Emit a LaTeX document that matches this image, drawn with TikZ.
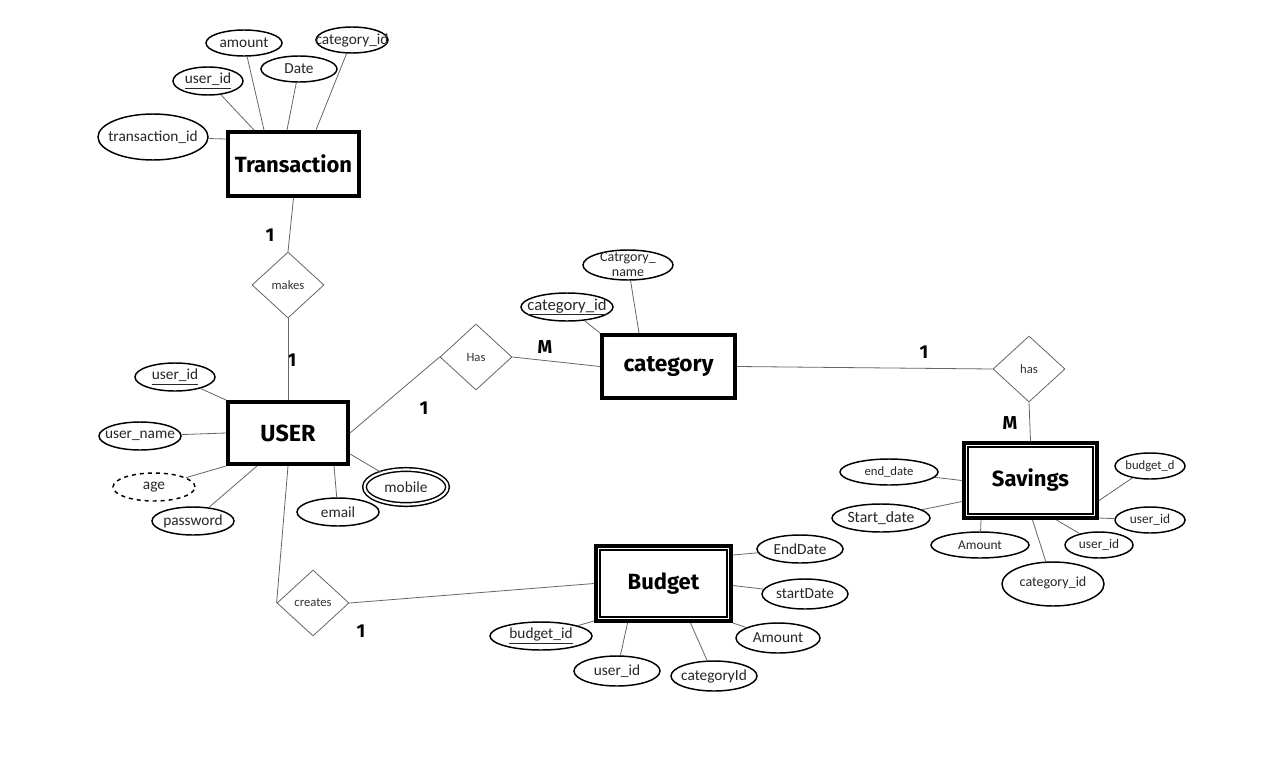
\documentclass[tikz,border=0pt]{standalone}
\usepackage{fontspec}
\setmainfont{Carlito}
\newfontfamily\titlefont{Fira Sans}
\usetikzlibrary{shapes.geometric,calc}
\newcommand\fixw[1]{\makebox[0pt]{#1}}
\begin{document}
\begin{tikzpicture}[x=0.75pt,y=-0.75pt,
 attr/.style 2 args={ellipse, draw=black, line width=1.1pt, inner sep=0pt, fill=white,
   minimum width=#1*0.75pt, minimum height=#2*0.75pt, font=\fontsize{11.5}{12}\selectfont, text=black!85},
 ent/.style 2 args={rectangle, draw=black, line width=3pt, fill=white,
   minimum width=#1*0.75pt, minimum height=#2*0.75pt, inner sep=0pt,
   font=\titlefont\bfseries\fontsize{16.5}{18}\selectfont},
 rel/.style={diamond, draw=black!60, line width=0.6pt, inner sep=0pt, fill=white,
   minimum width=72*0.75pt, minimum height=66*0.75pt, font=\fontsize{9.5}{10}\selectfont, text=black!80},
 lnk/.style={draw=black!60, line width=0.6pt},
 card/.style={font=\titlefont\bfseries\fontsize{14}{15}\selectfont},
 innerbox/.style={draw=black, line width=1pt},
 ]
\useasboundingbox[fill=white] (0,0) rectangle (1280,771);

% Transaction
\node[ent={131}{64}] (trans) at (293.5,164) {Transaction};
\node[attr={76}{26}] (tamount) at (244,43) {\fixw{amount}};
\node[attr={72}{26}] (tcat) at (352,40) {\fixw{category\_id}};
\node[attr={70}{28}] (tuid) at (208,81) {\fixw{\underline{user\_id}}};
\node[attr={76}{26}] (tdate) at (299,69) {\fixw{Date}};
\node[attr={110}{46}] (ttid) at (153,137) {\fixw{transaction\_id}};

% makes
\node[rel] (makes) at (288,285) {makes};

% USER
\node[ent={120}{62}, font=\titlefont\bfseries\fontsize{17.5}{19}\selectfont] (user) at (288,433) {USER};
\node[attr={80}{28}] (uid) at (175,377) {\fixw{\underline{user\_id}}};
\node[attr={82}{28}] (uname) at (140,436) {\fixw{user\_name}};
\node[attr={82}{28}, dashed] (uage) at (154,487) {\fixw{age}};
\node[attr={82}{28}] (upw) at (193,521) {\fixw{password}};
\node[attr={82}{28}] (uemail) at (338,512) {\fixw{email}};
\node[attr={83}{35}, double, double distance=1.6pt] (umob) at (406,487) {\fixw{mobile}};

% Has
\node[rel] (has1) at (476,357) {Has};

% category
\node[ent={133}{63}, font=\titlefont\bfseries\fontsize{17}{19}\selectfont] (cat) at (668.5,366.5) {category};
\node[attr={90}{30}, font=\fontsize{10.5}{11}\selectfont] (cname) at (628,265)
  {\fixw{\raisebox{-7pt}{\smash{\begin{tabular}{@{}c@{}}Catrgory\_\\name\end{tabular}}}}};
\node[attr={92}{28}, font=\fontsize{12.5}{13}\selectfont] (cid) at (567,307) {\fixw{\underline{category\_id}}};

% has
\node[rel] (has2) at (1029,369) {has};

% Savings
\node[ent={133}{75}] (sav) at (1030.5,480.5) {Savings};
\draw[innerbox] ($(sav.north west)+(6,6)$) rectangle ($(sav.south east)+(-6,-6)$);
\node[attr={98}{26}, font=\fontsize{9.5}{10}\selectfont] (send) at (889,472) {\fixw{end\_date}};
\node[attr={98}{28}, font=\fontsize{11.8}{12}\selectfont] (sstart) at (881,518) {\fixw{Start\_date}};
\node[attr={98}{26}, font=\fontsize{10}{11}\selectfont] (samt) at (980,545) {\fixw{Amount}};
\node[attr={102}{44}, font=\fontsize{10.5}{11}\selectfont] (scat) at (1053,584) {\fixw{\raisebox{4pt}{category\_id}}};
\node[attr={68}{26}, font=\fontsize{10}{11}\selectfont] (suid1) at (1099,545) {\fixw{user\_id}};
\node[attr={70}{26}, font=\fontsize{10}{11}\selectfont] (suid2) at (1150,520) {\fixw{user\_id}};
\node[attr={70}{26}, font=\fontsize{9.5}{10}\selectfont] (sbud) at (1150,466) {\fixw{budget\_d}};

% Budget
\node[ent={135}{75}] (bud) at (663.5,583.5) {Budget};
\draw[innerbox] ($(bud.north west)+(6,6)$) rectangle ($(bud.south east)+(-6,-6)$);
\node[attr={86}{28}] (bend) at (800,549) {\fixw{EndDate}};
\node[attr={86}{30}] (bstart) at (805,594) {\fixw{startDate}};
\node[attr={84}{30}] (bamt) at (778,638) {\fixw{Amount}};
\node[attr={86}{30}] (bcat) at (714,676) {\fixw{categoryId}};
\node[attr={86}{30}] (buid) at (617,671) {\fixw{user\_id}};
\node[attr={102}{28}] (bbid) at (541,636) {\fixw{\underline{budget\_id}}};

% creates
\node[rel] (creates) at (313,603) {creates};

% cardinalities
\node[card] (k1) at (270,235) {1};
\node[card] (k2) at (292,360) {1};
\node[card] (k3) at (424,408) {1};
\node[card] (k4) at (545,347) {M};
\node[card] (k5) at (924,352) {1};
\node[card] (k6) at (1010,423) {M};
\node[card] (k7) at (361,631) {1};

% connectors
\draw[lnk] (tamount) -- ($(trans.north west)+(38,0)$);
\draw[lnk] (tuid) -- ($(trans.north west)+(28,0)$);
\draw[lnk] (tdate) -- ($(trans.north west)+(61,0)$);
\draw[lnk] (tcat) -- ($(trans.north west)+(90,0)$);
\draw[lnk] (ttid) -- ($(trans.north west)+(0,9)$);
\draw[lnk] (trans.south) -- (makes.north);
\draw[lnk] (makes.south) -- (user.north);
\draw[lnk] (uid) -- (user.north west);
\draw[lnk] (uname) -- (user.west);
\draw[lnk] (uage) -- (user.south west);
\draw[lnk] (upw) -- ($(user.south west)+(31,0)$);
\draw[lnk] (uemail) -- ($(user.south west)+(108,0)$);
\draw[lnk] (umob) -- ($(user.south east)+(0,-12)$);
\draw[lnk] (user.east) -- (has1.west);
\draw[lnk] (has1.east) -- (cat.west);
\draw[lnk] (cname) -- ($(cat.north west)+(39,0)$);
\draw[lnk] (cid) -- (cat.north west);
\draw[lnk] (cat.east) -- (has2.west);
\draw[lnk] (has2.south) -- (sav.north);
\draw[lnk] (send) -- (sav.west);
\draw[lnk] (sstart) -- ($(sav.west)+(0,21)$);
\draw[lnk] (samt) -- ($(sav.south west)+(19,0)$);
\draw[lnk] (scat) -- ($(sav.south)+(2,0)$);
\draw[lnk] (suid1) -- ($(sav.south)+(26,0)$);
\draw[lnk] (suid2) -- ($(sav.south east)+(0,-2)$);
\draw[lnk] (sbud) -- ($(sav.east)+(0,20)$);
\draw[lnk] (user.south) -- (creates.west);
\draw[lnk] (creates.east) -- (bud.west);
\draw[lnk] (bend) -- ($(bud.north east)+(0,11)$);
\draw[lnk] (bstart) -- ($(bud.east)+(0,2)$);
\draw[lnk] (bamt) -- (bud.south east);
\draw[lnk] (bcat) -- ($(bud.south)+(27,0)$);
\draw[lnk] (buid) -- ($(bud.south)+(-36,0)$);
\draw[lnk] (bbid) -- ($(bud.south west)+(0,-2)$);
\end{tikzpicture}
\end{document}
